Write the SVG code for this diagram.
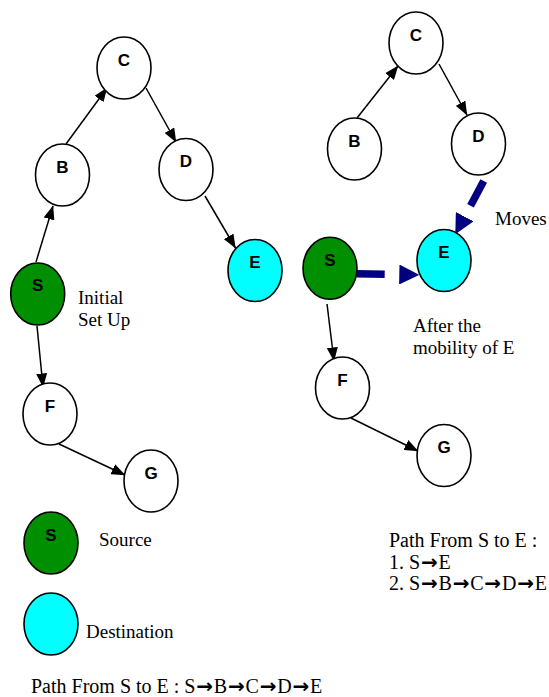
<svg xmlns="http://www.w3.org/2000/svg" width="549" height="697" viewBox="0 0 549 697">
<style>
.node{stroke:#000;stroke-width:1.6;fill:#fff}
.src{fill:#008f00}
.dst{fill:#00ffff}
.lbl{font-family:"Liberation Sans",Arial,sans-serif;font-weight:bold;font-size:17px;text-anchor:middle;fill:#000}
.txt{font-family:"Liberation Serif","Times New Roman",serif;font-size:19px;fill:#000}
.path{font-size:20px}
.ar{font-family:"DejaVu Sans",sans-serif;font-weight:bold;font-size:20px}
.edge{stroke:#000;stroke-width:1.5;fill:none;marker-end:url(#ah)}
.move{stroke:#000080;stroke-width:7.5;fill:none;stroke-dasharray:28 100;marker-end:url(#mh)}
</style>
<defs>
<marker id="ah" markerUnits="userSpaceOnUse" viewBox="0 0 14 11" refX="13.5" refY="5.5" markerWidth="14" markerHeight="11" orient="auto">
<path d="M0,0 L14,5.5 L0,11 z" fill="#000"/>
</marker>
<marker id="mh" markerUnits="userSpaceOnUse" viewBox="0 0 20 20" refX="0" refY="10" markerWidth="20" markerHeight="20" orient="auto">
<path d="M0,0 L20,10 L0,20 z" fill="#000080"/>
</marker>
</defs>
<rect width="549" height="697" fill="#fff"/>

<g id="connectors">
<line class="edge" x1="36" y1="262" x2="53" y2="206"/>
<line class="edge" x1="66" y1="144" x2="107" y2="88"/>
<line class="edge" x1="146" y1="88" x2="176" y2="142"/>
<line class="edge" x1="205" y1="196" x2="235.5" y2="248"/>
<line class="edge" x1="37" y1="326" x2="43" y2="387"/>
<line class="edge" x1="59" y1="444" x2="125" y2="475"/>
<line class="edge" x1="357" y1="118" x2="398" y2="66"/>
<line class="edge" x1="439" y1="64" x2="467" y2="115"/>
<line class="edge" x1="327" y1="304" x2="334" y2="361"/>
<line class="edge" x1="351" y1="418" x2="418" y2="451"/>
<line class="move" x1="356.7" y1="273.7" x2="399.3" y2="274.5"/>
<line class="move" x1="483.7" y1="181" x2="464.7" y2="216.7"/>
</g>

<g id="left-C"><ellipse class="node" cx="124" cy="68" rx="27" ry="31"/><text class="lbl" x="124" y="66">C</text></g>
<g id="left-B"><ellipse class="node" cx="62.5" cy="175" rx="27" ry="31"/><text class="lbl" x="62.5" y="172.5">B</text></g>
<g id="left-D"><ellipse class="node" cx="186" cy="169.5" rx="27" ry="31"/><text class="lbl" x="186" y="167">D</text></g>
<g id="left-E"><ellipse class="node dst" cx="255" cy="270.5" rx="27" ry="31"/><text class="lbl" x="255" y="268">E</text></g>
<g id="left-S"><ellipse class="node src" cx="37.7" cy="294" rx="27" ry="31"/><text class="lbl" x="37.7" y="291">S</text></g>
<g id="left-F"><ellipse class="node" cx="50" cy="414" rx="27" ry="31"/><text class="lbl" x="50" y="411.5">F</text></g>
<g id="left-G"><ellipse class="node" cx="151" cy="481" rx="27" ry="31"/><text class="lbl" x="151" y="478.5">G</text></g>

<g id="right-C"><ellipse class="node" cx="416" cy="43" rx="27" ry="31"/><text class="lbl" x="416" y="40.5">C</text></g>
<g id="right-B"><ellipse class="node" cx="354.5" cy="149" rx="27" ry="31"/><text class="lbl" x="354.5" y="146.5">B</text></g>
<g id="right-D"><ellipse class="node" cx="478.5" cy="144" rx="27" ry="31"/><text class="lbl" x="478.5" y="141.5">D</text></g>
<g id="right-E"><ellipse class="node dst" cx="444" cy="260.5" rx="27" ry="31"/><text class="lbl" x="444" y="258">E</text></g>
<g id="right-S"><ellipse class="node src" cx="330" cy="268.3" rx="27" ry="31"/><text class="lbl" x="330" y="265.5">S</text></g>
<g id="right-F"><ellipse class="node" cx="342.5" cy="388" rx="27" ry="31"/><text class="lbl" x="342.5" y="385.5">F</text></g>
<g id="right-G"><ellipse class="node" cx="444" cy="455.5" rx="27" ry="31"/><text class="lbl" x="444" y="453">G</text></g>

<g id="legend-source"><ellipse class="node src" cx="51" cy="543" rx="27" ry="31"/><text class="lbl" x="51" y="540.5">S</text><text class="txt" x="99" y="546">Source</text></g>
<g id="legend-destination"><ellipse class="node dst" cx="51" cy="624" rx="27" ry="31"/><text class="txt" x="86" y="638">Destination</text></g>

<g id="labels">
<text class="txt" x="78" y="304">Initial</text>
<text class="txt" x="78" y="326">Set Up</text>
<text class="txt" x="495" y="225">Moves</text>
<text class="txt" x="413" y="332">After the</text>
<text class="txt" x="413" y="354">mobility of E</text>
<text class="txt path" x="389" y="547">Path From S to E :</text>
<text class="txt path" x="389" y="568.5">1. S<tspan class="ar" dx="0.8">→</tspan><tspan dx="0.8">E</tspan></text>
<text class="txt path" x="389" y="590">2. S<tspan class="ar" dx="0.8">→</tspan><tspan dx="0.8">B</tspan><tspan class="ar" dx="0.8">→</tspan><tspan dx="0.8">C</tspan><tspan class="ar" dx="0.8">→</tspan><tspan dx="0.8">D</tspan><tspan class="ar" dx="0.8">→</tspan><tspan dx="0.8">E</tspan></text>
<text class="txt path" x="31" y="693">Path From S to E : S<tspan class="ar" dx="0.8">→</tspan><tspan dx="0.8">B</tspan><tspan class="ar" dx="0.8">→</tspan><tspan dx="0.8">C</tspan><tspan class="ar" dx="0.8">→</tspan><tspan dx="0.8">D</tspan><tspan class="ar" dx="0.8">→</tspan><tspan dx="0.8">E</tspan></text>
</g>
</svg>
